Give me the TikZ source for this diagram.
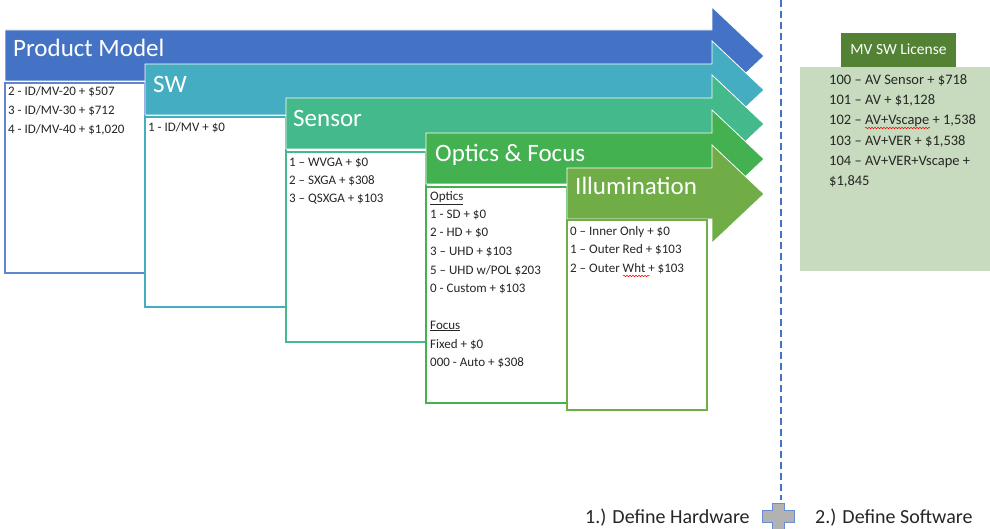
\documentclass[tikz,border=0pt]{standalone}
\usepackage{fontspec}
\setmainfont{Carlito}
\usetikzlibrary{decorations.pathmorphing}
\definecolor{cA}{HTML}{4472C4}
\definecolor{cB}{HTML}{45ADC2}
\definecolor{cC}{HTML}{44B98B}
\definecolor{cD}{HTML}{43B150}
\definecolor{cE}{HTML}{70AD47}
\definecolor{licdark}{HTML}{548235}
\definecolor{liclight}{HTML}{C8DBBE}
\definecolor{txt}{HTML}{262626}
\newcommand\chevarrow[3]{\fill[#1,draw=white,line width=0.8] (#2,#3) -- (712,#3) -- (712,{#3-23}) -- (764,{#3+26}) -- (712,{#3+75}) -- (712,{#3+51}) -- (#2,{#3+51}) -- cycle;}
\begin{document}
\begin{tikzpicture}[x=1pt,y=-1pt,
  title/.style={text=white, font=\fontsize{25}{30}\selectfont, inner sep=0pt, anchor=base west},
  item/.style={text=txt, font=\fontsize{13}{15}\selectfont, inner sep=0pt, anchor=base west},
  lic/.style={text=txt, font=\fontsize{14.5}{17}\selectfont, inner sep=0pt, anchor=base west},
  bottomtxt/.style={text=txt, font=\fontsize{20}{24}\selectfont, inner sep=0pt, anchor=base west},
  optbox/.style={line width=1.2pt, fill=white},
  spell/.style={red, line width=0.5pt, decorate, decoration={snake, amplitude=0.8pt, segment length=3pt}}]
\useasboundingbox (0,0) rectangle (990,529);
\fill[white] (0,0) rectangle (990,529);

% dashed separator
\draw[cA, line width=2.2pt, dash pattern=on 7pt off 4pt] (781,0) -- (781,500);

% 1 Product Model
\chevarrow{cA}{5}{30}
\node[title] (t1) at (13,57) {Product Model};
\draw[cA!85, optbox] (5,83) rectangle (145,273);
\node[item] (p1) at (8,95.5) {2 - ID/MV-20 + \$507};
\node[item] (p2) at (8,114.5) {3 - ID/MV-30 + \$712};
\node[item] (p3) at (8,133.5) {4 - ID/MV-40 + \$1,020};

% 2 SW
\chevarrow{cB}{145}{64}
\node[title] (t2) at (153,93) {SW};
\draw[cB, optbox] (145,117) rectangle (286,307);
\node[item] (s1) at (148,131.5) {1 - ID/MV + \$0};

% 3 Sensor
\chevarrow{cC}{286}{98}
\node[title] (t3) at (293,127) {Sensor};
\draw[cC, optbox] (286,152) rectangle (426,342);
\node[item] (n1) at (289,166.5) {1 – WVGA + \$0};
\node[item] (n2) at (289,184.5) {2 – SXGA + \$308};
\node[item] (n3) at (289,202.5) {3 – QSXGA + \$103};

% 4 Optics & Focus
\chevarrow{cD}{426}{133}
\node[title] (t4) at (435,162) {Optics \& Focus};
\draw[cD, optbox] (426,187) rectangle (567,403);
\node[item] (o0) at (430,201) {\underline{Optics}};
\node[item] (o1) at (430,218.5) {1 - SD + \$0};
\node[item] (o2) at (430,237) {2 - HD + \$0};
\node[item] (o3) at (430,255.5) {3 – UHD + \$103};
\node[item] (o4) at (430,274) {5 – UHD w/POL \$203};
\node[item] (o5) at (430,292.5) {0 - Custom + \$103};
\node[item] (f0) at (430,329) {\underline{Focus}};
\node[item] (f1) at (430,348) {Fixed + \$0};
\node[item] (f2) at (430,366.5) {000 - Auto + \$308};

% 5 Illumination
\chevarrow{cE}{567}{168}
\node[title] (t5) at (575,195) {Illumination};
\draw[cE, optbox] (567,220) rectangle (707,410);
\node[item] (i1) at (570,235.5) {0 – Inner Only + \$0};
\node[item] (i2) at (570,253.5) {1 – Outer Red + \$103};
\node[item] (i3) at (570,272.5) {2 – Outer Wht + \$103};
\draw[spell] (623,276) -- (650,276);

% MV SW License
\fill[liclight] (800,67) rectangle (990,271);
\fill[licdark] (841,33) rectangle (956,67);
\node[text=white, font=\fontsize{15.5}{18}\selectfont, inner sep=0pt, anchor=base] (lh) at (898.5,55) {MV SW License};
\node[lic] (l1) at (829,84.5) {100 – AV Sensor + \$718};
\node[lic] (l2) at (829,104.5) {101 – AV + \$1,128};
\node[lic] (l3) at (829,124.5) {102 – AV+Vscape + 1,538};
\node[lic] (l4) at (829,145.5) {103 – AV+VER + \$1,538};
\node[lic] (l5) at (829,165.5) {104 – AV+VER+Vscape +};
\node[lic] (l6) at (829,185.5) {\$1,845};
\draw[spell] (865,128) -- (930,128);

% bottom legend
\node[bottomtxt] (hw) at (585,523) {1.) Define Hardware};
\filldraw[fill=gray!60, draw=cA!80, line width=1pt] (772,503) -- (784,503) -- (784,510) -- (794,510) -- (794,522) -- (784,522) -- (784,531) -- (772,531) -- (772,522) -- (762,522) -- (762,510) -- (772,510) -- cycle;
\node[bottomtxt] (sw) at (815,523) {2.) Define Software};
\end{tikzpicture}
\end{document}
